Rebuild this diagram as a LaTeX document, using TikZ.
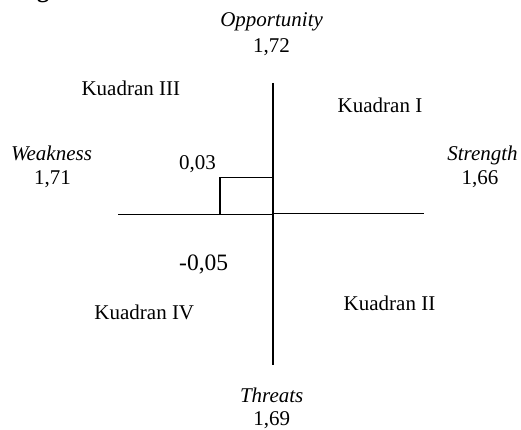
\documentclass[tikz,border=0pt]{standalone}
\usepackage{fontspec}
\setmainfont{Liberation Serif}
\begin{document}
\begin{tikzpicture}[x=1pt,y=-1pt,
  lbl/.style={anchor=base,inner sep=0pt,font=\fontsize{21}{25}\selectfont},
  big/.style={anchor=base,inner sep=0pt,font=\fontsize{23.5}{28}\selectfont},
  axis/.style={line width=1.6pt,black},
  box/.style={line width=1.6pt,black}]
\useasboundingbox (0,0) rectangle (521,430);
% fragment of cut-off title
\node[anchor=base,inner sep=0pt,font=\fontsize{24}{28}\selectfont\bfseries] (frag) at (43,-2) {g};
% axes
\coordinate (top) at (273,83);
\coordinate (bot) at (273,365);
\coordinate (lft) at (118,214.5);
\coordinate (ctrl) at (273,214.5);
\coordinate (ctrr) at (273,213.5);
\coordinate (rgt) at (424,213.5);
\draw[axis] (top) -- (bot);
\draw[axis] (lft) -- (ctrl);
\draw[axis] (ctrr) -- (rgt);
% small box
\coordinate (bx1) at (220,177.7);
\coordinate (bx2) at (273,214.5);
\draw[box] (bx1) rectangle (bx2);
% labels
\node[lbl] (opp) at (271.6,27) {\itshape Opportunity};
\node[lbl] (oppv) at (271.6,53) {1,72};
\node[lbl] (weak) at (51.5,160.7) {\itshape Weakness};
\node[lbl] (weakv) at (52.5,185) {1,71};
\node[lbl] (str) at (482.5,160.7) {\itshape Strength};
\node[lbl] (strv) at (480,185) {1,66};
\node[lbl] (thr) at (271.7,402) {\itshape Threats};
\node[lbl] (thrv) at (271.7,425) {1,69};
\node[lbl] (k3) at (130.8,96) {Kuadran III};
\node[lbl] (k1) at (380,113) {Kuadran I};
\node[lbl] (k4) at (144.3,319) {Kuadran IV};
\node[lbl] (k2) at (389.5,310.7) {Kuadran II};
\node[lbl] (v1) at (197.5,170) {0,03};
\node[big] (v2) at (203.7,270) {-0,05};
\end{tikzpicture}
\end{document}
